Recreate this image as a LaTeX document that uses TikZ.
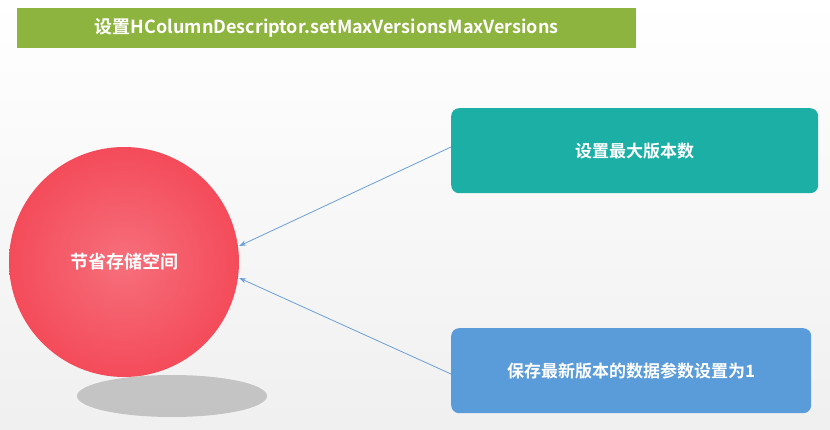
\documentclass[tikz,border=0pt]{standalone}
\usepackage{fontspec}
\newfontfamily\cjk[BoldFont={Noto Sans CJK SC Bold}]{Noto Sans CJK SC}
\usetikzlibrary{arrows.meta,shadows.blur}
\definecolor{titlegreen}{HTML}{8DB43E}
\definecolor{teal}{HTML}{1BAFA6}
\definecolor{boxblue}{HTML}{5A9BD9}
\definecolor{circred}{HTML}{F44B5A}
\definecolor{linkblue}{HTML}{6A9FD8}
\tikzset{
  lbl/.style={text=white,font=\cjk\bfseries},
  rbox/.style={rounded corners=8pt,anchor=north west,lbl,font=\cjk\bfseries\fontsize{17}{20}\selectfont},
  link/.style={draw=linkblue,line width=0.8pt,-{Stealth[length=7pt,width=5pt]}}
}
\begin{document}
\begin{tikzpicture}[x=1pt,y=-1pt]
\fill[top color=white,bottom color=black!6] (0,0) rectangle (830,430);
\useasboundingbox (0,0) rectangle (830,430);
\node[fill=titlegreen,anchor=north west,minimum width=619pt,minimum height=40pt,inner sep=0pt,lbl,font=\cjk\bfseries\fontsize{18}{20}\selectfont] (title) at (17,8) {设置HColumnDescriptor.setMaxVersionsMaxVersions};
\fill[black!35,opacity=0.6] (172,396) ellipse (95pt and 21pt);
\node[circle,minimum size=230pt,inner sep=0pt,inner color=circred!80!white,outer color=circred,lbl,font=\cjk\bfseries\fontsize{18}{20}\selectfont] (save) at (124,262) {节省存储空间};
\node[rbox,fill=teal,minimum width=367pt,minimum height=85pt] (max) at (451,108) {设置最大版本数};
\node[rbox,fill=boxblue,minimum width=360pt,minimum height=85pt] (one) at (451,328) {保存最新版本的数据参数设置为1};
\draw[link] (451,147) -- (save.east |- 0,246);
\draw[link] (451,374) -- (save.east |- 0,278);
\end{tikzpicture}
\end{document}
